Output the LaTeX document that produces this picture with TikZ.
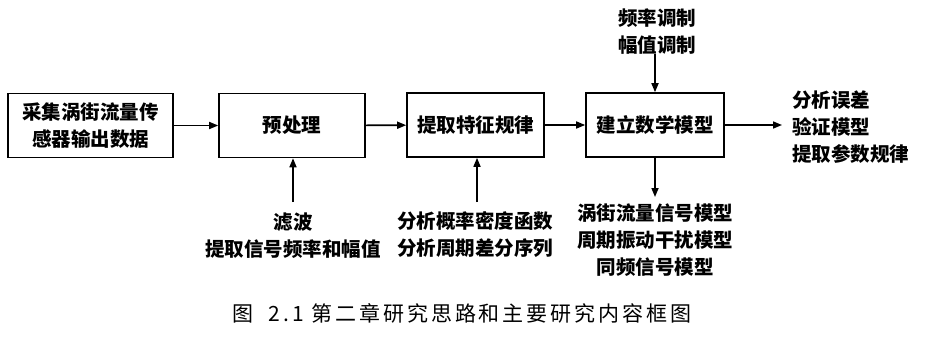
\documentclass[tikz,border=0pt]{standalone}
\usepackage{fontspec}
\setmainfont{Noto Sans CJK SC}
\newfontfamily\capfont{Noto Sans CJK SC}
\usetikzlibrary{arrows.meta}
\begin{document}
\begin{tikzpicture}[x=1pt,y=-1pt,
  box/.style={draw,line width=1.6pt,inner sep=0pt,minimum height=64pt,font=\bfseries\fontsize{19.5}{27}\selectfont,align=center},
  lbl/.style={inner sep=0pt,font=\bfseries\fontsize{19.5}{27}\selectfont,align=center},
  arr/.style={line width=1.6pt,-{Triangle[length=9pt,width=7pt]}}]
\useasboundingbox (0,0) rectangle (936,346);
\node[box,minimum width=165pt] (b1) at (90.5,125.5) {采集涡街流量传\\感器输出数据};
\node[box,minimum width=146pt] (b2) at (292,125.5) {预处理};
\node[box,minimum width=137pt] (b3) at (475.5,125) {提取特征规律};
\node[box,minimum width=138pt] (b4) at (655,125) {建立数学模型};
\node[lbl,align=left,anchor=west] (out) at (792,127) {分析误差\\验证模型\\提取参数规律};
\node[lbl] (top) at (657,31.5) {频率调制\\幅值调制};
\node[lbl] (bot4) at (655,240) {涡街流量信号模型\\周期振动干扰模型\\同频信号模型};
\node[lbl] (bot3) at (475,235) {分析概率密度函数\\分析周期差分序列};
\node[lbl] (bot2) at (293,236) {滤波\\提取信号频率和幅值};
\coordinate (oe) at (782,125);
\draw[arr] (b1) -- (b2);
\draw[arr] (b2) -- (b3);
\draw[arr] (b3) -- (b4);
\draw[arr] (b4.east) -- (oe);
\draw[arr] (655,54) -- (b4.north);
\draw[arr] (b4.south) -- (655,197);
\draw[arr] (477,202) -- (b3.south -| 477,0);
\draw[arr] (293,202) -- (b2.south -| 293,0);
\node[inner sep=0pt,font=\capfont\fontsize{21}{24}\selectfont\addfontfeature{LetterSpace=14}] (cap) at (462,313) {图\ \ 2.1 第二章研究思路和主要研究内容框图};
\end{tikzpicture}
\end{document}
